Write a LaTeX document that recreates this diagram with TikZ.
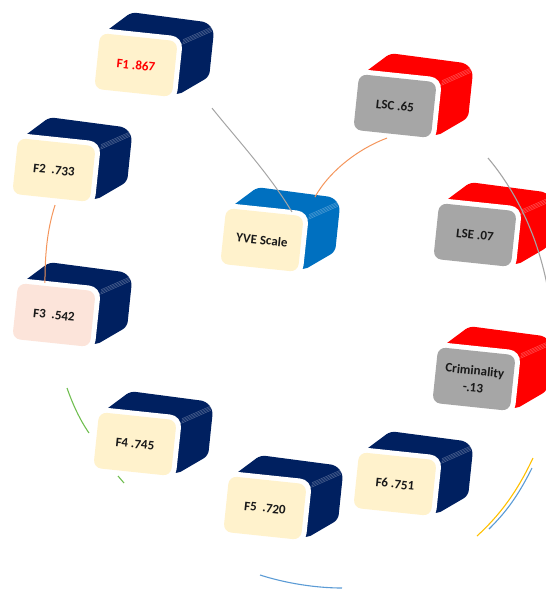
\documentclass[tikz,border=0pt]{standalone}
\usepackage{fontspec}
\newfontfamily\carlito{Carlito}
\definecolor{navyc}{RGB}{0,32,96}
\definecolor{redc}{RGB}{255,0,0}
\definecolor{bluec}{RGB}{0,112,192}
\definecolor{creamc}{RGB}{255,242,204}
\definecolor{pinkc}{RGB}{252,228,218}
\definecolor{grayc}{RGB}{166,166,166}
\definecolor{textc}{RGB}{25,25,25}
\definecolor{orangec}{RGB}{244,149,91}
\definecolor{linegray}{RGB}{165,165,165}
\definecolor{greenc}{RGB}{112,190,80}
\definecolor{arcblue}{RGB}{91,155,213}
\definecolor{yellowc}{RGB}{255,192,0}
\tikzset{
  face/.style={rounded corners=8pt, minimum width=78pt, minimum height=56pt, inner sep=1pt, align=center, rotate=-6,
    font=\carlito\bfseries\fontsize{13}{17}\selectfont},
  conn/.style={line width=1pt},
  arcline/.style={line width=1.1pt},
}
\newcommand\cubeblock[6]{%
\begin{scope}[shift={#2}, rotate=-6]
 \fill[#3, rounded corners=5pt] (-36,-28) -- (-10,-52) -- (66,-50) -- (74,-42) -- (74,4) -- (44,26) -- (0,0) -- cycle;
 \foreach \k in {0,1.5,3,4.5} \draw[white, opacity=0.35, line width=0.4pt] (44,-30+\k) -- (72,-46+\k);
 \fill[white, rounded corners=12pt] (-44,-33) rectangle (44,33);
\end{scope}
\node[face, fill=#4, text=#5] (#1) at #2 {#6};
}
\begin{document}
\begin{tikzpicture}[x=1pt, y=-1pt]
\useasboundingbox (0,0) rectangle (546,590);
% boxes
\cubeblock{F1}{(136,65)}{navyc}{creamc}{redc}{F1 .867}
\cubeblock{LSC}{(395,106)}{redc}{grayc}{textc}{LSC .65}
\cubeblock{F2}{(54,170)}{navyc}{creamc}{textc}{F2~ .733}
\cubeblock{YVE}{(262,240)}{bluec}{creamc}{textc}{YVE Scale}
\cubeblock{LSE}{(475,235)}{redc}{grayc}{textc}{LSE .07}
\cubeblock{F3}{(54,315)}{navyc}{pinkc}{textc}{F3~ .542}
\cubeblock{CR}{(474,379)}{redc}{grayc}{textc}{Criminality\\-.13}
\cubeblock{F4}{(135,444)}{navyc}{creamc}{textc}{F4 .745}
\cubeblock{F6}{(395,484)}{navyc}{creamc}{textc}{F6 .751}
\cubeblock{F5}{(265,508)}{navyc}{creamc}{textc}{F5~ .720}
% connectors
\draw[conn, linegray] ([shift={(40,11)}]F1.south east) .. controls (236,138) and (270,175) .. ([shift={(27,0)}]YVE.north);
\draw[conn, orangec] ([shift={(-5,4)}]LSC.south) .. controls (360,148) and (330,170) .. ([shift={(11,-19)}]YVE.north east);
\draw[conn, orangec] ([shift={(4,7)}]F2.south) .. controls (47,230) and (45,255) .. ([shift={(-12,-4)}]F3.north);
% partial arcs
\draw[arcline, linegray] (488,158) .. controls (515,190) and (538,235) .. (548,290);
\draw[arcline, greenc] (67,388) .. controls (73,405) and (80,420) .. (89,433);
\draw[arcline, greenc] (118,476) -- (124,483);
\draw[arcline, arcblue] (260,575) .. controls (285,583) and (315,588) .. (342,588);
\draw[arcline, yellowc] (533,458) .. controls (517,492) and (500,515) .. (477,536);
\draw[arcline, arcblue] (532,468) .. controls (517,498) and (505,513) .. (489,529);
\end{tikzpicture}
\end{document}
